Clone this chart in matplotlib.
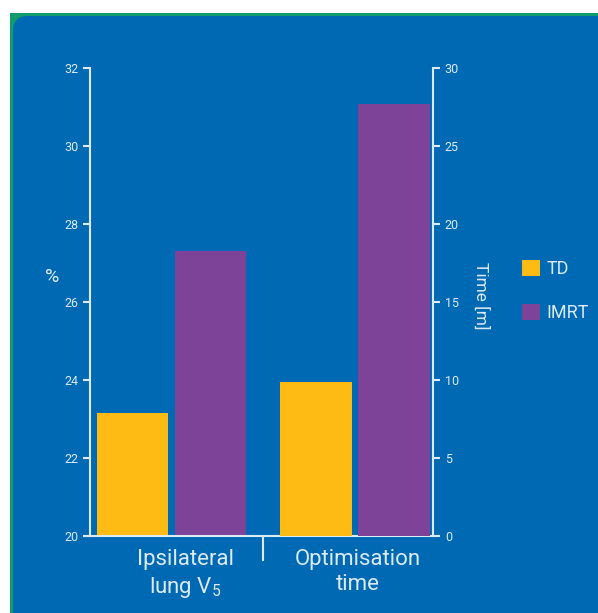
import matplotlib
matplotlib.use("Agg")
import matplotlib.pyplot as plt
from matplotlib.patches import Rectangle, FancyBboxPatch
import numpy as np

categories = ["Ipsilateral\nlung V$_5$", "Optimisation\ntime"]
series = ["TD", "IMRT"]
lung_v5 = [23.15, 27.3]        # %, left axis
opt_time = [9.9, 27.7]         # minutes, right axis
left_ticks = [20, 22, 24, 26, 28, 30, 32]
right_ticks = [0, 5, 10, 15, 20, 25, 30]

BLUE = "#0069b4"
GREEN = "#139a6c"
TEXT = "#dceaf6"
COLORS = ["#fdbb13", "#7c4398"]

plt.rcParams["font.family"] = ["Roboto", "DejaVu Sans"]
plt.rcParams["mathtext.fontset"] = "custom"
plt.rcParams["mathtext.rm"] = "Roboto"

W, H = 598, 613
fig = plt.figure(figsize=(W / 100, H / 100), dpi=100)
fig.patch.set_facecolor("white")

# panel background: green frame with rounded blue card
fig.patches.append(Rectangle((10 / W, 0), 1, 1 - 13 / H, transform=fig.transFigure,
                             facecolor=GREEN, edgecolor="none", zorder=-3))
fig.patches.append(FancyBboxPatch((13 / W, -0.05), 1, 1 - 16 / H + 0.05,
                                  boxstyle="round,pad=0,rounding_size=0.025",
                                  transform=fig.transFigure, facecolor=BLUE,
                                  edgecolor="none", zorder=-2))

ax = fig.add_axes([90 / W, 1 - 536 / H, 343 / W, 468 / H])
ax2 = ax.twinx()
for a in (ax, ax2):
    a.set_facecolor("none")
    a.tick_params(colors=TEXT, labelsize=9, width=1.5, length=5, direction="out")
    for s in a.spines.values():
        s.set_color(TEXT)
        s.set_linewidth(1.5)
    a.spines["top"].set_visible(False)

ax.spines["right"].set_visible(False)
ax2.spines["left"].set_visible(False)
ax2.spines["bottom"].set_visible(False)

x = np.arange(len(categories))
w = 0.387
offs = [-0.2125, 0.2125]
for i, name in enumerate(series):
    ax.bar(x[0] + offs[i], lung_v5[i] - left_ticks[0], width=w, bottom=left_ticks[0],
           color=COLORS[i], label=name)
    ax2.bar(x[1] + offs[i], opt_time[i], width=w, color=COLORS[i])

ax.set_xlim(-0.444, 1.425)
ax.set_ylim(left_ticks[0], left_ticks[-1])
ax2.set_ylim(right_ticks[0], right_ticks[-1])
ax.set_yticks(left_ticks)
ax2.set_yticks(right_ticks)

# category separator tick and labels
ax.set_xticks([0.5])
ax.set_xticklabels([""])
ax.tick_params(axis="x", length=18, width=1.5, colors=TEXT)
for xpos, lab in zip([0.074, 1.016], categories):
    ax.text(xpos, -0.027, lab, transform=ax.get_xaxis_transform(), ha="center", va="top",
            color=TEXT, fontsize=16, linespacing=1.3)

fig.text(52 / W, 1 - 277 / H, "%", color=TEXT, fontsize=14, ha="center", va="center")
fig.text(481 / W, 1 - 296 / H, "Time [m]", color=TEXT, fontsize=12.5, rotation=-90,
         ha="center", va="center")

handles, labels = ax.get_legend_handles_labels()
leg = fig.legend(handles, labels, loc="center left", bbox_to_anchor=(506 / W, 1 - 291 / H),
                 frameon=False, fontsize=13, labelcolor=TEXT, handlelength=1.0,
                 handleheight=1.0, handletextpad=0.35, labelspacing=1.4)

fig.savefig("out.png", dpi=100, facecolor=fig.get_facecolor())
